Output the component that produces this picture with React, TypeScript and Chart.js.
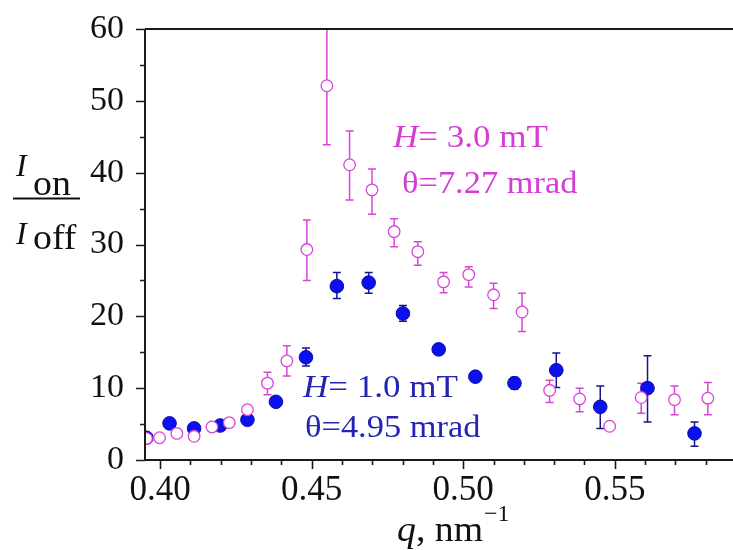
import React, { useEffect, useRef } from 'react';
import { Chart, registerables } from 'chart.js';

Chart.register(...registerables);

// H = 3.0 mT (open circles)
const q3 = [0.3955, 0.3998, 0.4055, 0.4112, 0.4171, 0.4228, 0.4288, 0.4354, 0.4418, 0.4484, 0.455, 0.4625, 0.4699, 0.4772, 0.485, 0.4935, 0.5018, 0.51, 0.5194, 0.5285, 0.5384, 0.5483, 0.5587, 0.5697, 0.5807];
const r3 = [3.0, 3.1, 3.7, 3.3, 4.6, 5.2, 7.0, 10.7, 13.8, 29.3, 52.1, 41.1, 37.6, 31.8, 29.0, 24.8, 25.8, 23.0, 20.6, 9.7, 8.5, 4.7, 8.7, 8.4, 8.6];
const lo3 = [2.7, 2.8, 3.3, 2.8, 4.2, 4.8, 6.4, 9.1, 11.7, 25.0, 43.9, 36.2, 34.2, 29.7, 27.1, 23.3, 24.1, 21.1, 17.9, 8.0, 6.7, 4.2, 6.5, 6.3, 6.3];
const hi3 = [3.3, 3.4, 4.1, 3.8, 5.0, 5.6, 7.6, 12.2, 15.9, 33.4, 62.0, 45.8, 40.5, 33.6, 30.4, 26.1, 26.9, 24.6, 23.2, 11.1, 10.0, 5.2, 10.7, 10.3, 10.8];

// H = 1.0 mT (filled circles)
const q1 = [0.3955, 0.4031, 0.4112, 0.4198, 0.4288, 0.4382, 0.4481, 0.4583, 0.4688, 0.4801, 0.4919, 0.504, 0.5169, 0.5307, 0.5452, 0.5608, 0.5763];
const r1 = [3.1, 5.1, 4.4, 4.8, 5.6, 8.1, 14.3, 24.2, 24.7, 20.4, 15.4, 11.6, 10.7, 12.5, 7.4, 10.0, 3.7];
const lo1 = [2.8, 4.7, 4.0, 4.4, 5.2, 7.6, 13.1, 22.5, 23.2, 19.3, 14.8, 11.1, 9.9, 10.1, 4.4, 5.3, 1.9];
const hi1 = [3.4, 5.5, 4.8, 5.2, 6.0, 8.6, 15.6, 26.1, 26.1, 21.5, 16.0, 12.1, 11.5, 14.9, 10.3, 14.5, 5.3];

const xTicks = [0.40, 0.41, 0.42, 0.43, 0.44, 0.45, 0.46, 0.47, 0.48, 0.49, 0.50, 0.51, 0.52, 0.53, 0.54, 0.55, 0.56, 0.57, 0.58];
const xLabelTicks = ['0.40', '0.45', '0.50', '0.55'];
const yTicks = [0, 5, 10, 15, 20, 25, 30, 35, 40, 45, 50, 55, 60];
const yLabelTicks = ['0', '10', '20', '30', '40', '50', '60'];

const PINK = '#d846d8';
const PINK_TEXT = '#d43cd4';
const BLUE = '#0a10ee';
const BLUE_DARK = '#14148c';
const BLUE_TEXT = '#2424b4';
const AXIS = '#1a1a1a';
const SERIF = '"Liberation Serif", "Times New Roman", serif';

const lowsFor = [lo3, lo1];
const highsFor = [hi3, hi1];
const barColors = [PINK, BLUE_DARK];

const isMajorX = (v: number) => xLabelTicks.includes(v.toFixed(2));
const isMajorY = (v: number) => yLabelTicks.includes(String(v));

const zeroPad = (s: any) => {
  s.paddingTop = 0;
  s.paddingBottom = 0;
  s.paddingLeft = 0;
  s.paddingRight = 0;
};

const decorPlugin = {
  id: 'decor',
  beforeDatasetsDraw(chart: any) {
    const { ctx, chartArea } = chart;
    const xs = chart.scales.x;
    const ys = chart.scales.y;
    ctx.save();
    ctx.beginPath();
    ctx.rect(chartArea.left, chartArea.top, chartArea.right - chartArea.left, chartArea.bottom - chartArea.top);
    ctx.clip();
    chart.data.datasets.forEach((ds: any, di: number) => {
      ctx.strokeStyle = barColors[di];
      ctx.lineWidth = 1.5;
      ds.data.forEach((p: any, i: number) => {
        const px = xs.getPixelForValue(p.x);
        const pl = ys.getPixelForValue(lowsFor[di][i]);
        const ph = ys.getPixelForValue(highsFor[di][i]);
        ctx.beginPath();
        ctx.moveTo(px, pl);
        ctx.lineTo(px, ph);
        ctx.moveTo(px - 4, pl);
        ctx.lineTo(px + 4, pl);
        ctx.moveTo(px - 4, ph);
        ctx.lineTo(px + 4, ph);
        ctx.stroke();
      });
    });
    ctx.restore();
  },
  afterDraw(chart: any) {
    const { ctx, chartArea } = chart;
    const xs = chart.scales.x;
    const ys = chart.scales.y;
    ctx.save();
    ctx.strokeStyle = AXIS;
    ctx.lineWidth = 2;
    ctx.beginPath();
    ctx.moveTo(chartArea.left, chartArea.top);
    ctx.lineTo(chartArea.right, chartArea.top);
    ctx.moveTo(chartArea.left, chartArea.top);
    ctx.lineTo(chartArea.left, chartArea.bottom);
    ctx.moveTo(chartArea.left, chartArea.bottom);
    ctx.lineTo(chartArea.right, chartArea.bottom);
    ctx.stroke();
    ctx.lineWidth = 1.6;
    ctx.beginPath();
    xTicks.forEach((v) => {
      const px = Math.round(xs.getPixelForValue(v)) + 0.5;
      const len = isMajorX(v) ? 9 : 5;
      ctx.moveTo(px, chartArea.bottom);
      ctx.lineTo(px, chartArea.bottom + len);
    });
    yTicks.forEach((v) => {
      const py = Math.round(ys.getPixelForValue(v)) + 0.5;
      const len = isMajorY(v) ? 9 : 5;
      ctx.moveTo(chartArea.left, py);
      ctx.lineTo(chartArea.left - len, py);
    });
    ctx.stroke();

    const drawParts = (x: number, y: number, parts: [string, string][], color: string, sx: number) => {
      ctx.save();
      ctx.fillStyle = color;
      ctx.textBaseline = 'alphabetic';
      ctx.textAlign = 'left';
      ctx.translate(x, y);
      ctx.scale(sx, 1);
      let cx = 0;
      parts.forEach(([t, font]) => {
        ctx.font = font;
        ctx.fillText(t, cx, 0);
        cx += ctx.measureText(t).width;
      });
      ctx.restore();
    };

    // y-axis title: I_on / I_off
    drawParts(16, 176, [['I', `italic 32px ${SERIF}`]], '#111', 1);
    drawParts(16, 244, [['I', `italic 32px ${SERIF}`]], '#111', 1);
    drawParts(33, 195, [['on', `36px ${SERIF}`]], '#111', 1.05);
    drawParts(33, 249, [['off', `36px ${SERIF}`]], '#111', 1.05);
    ctx.strokeStyle = '#111';
    ctx.lineWidth = 2;
    ctx.beginPath();
    ctx.moveTo(13, 198.5);
    ctx.lineTo(80, 198.5);
    ctx.stroke();

    // x-axis title
    drawParts(397, 541, [['q', `italic 35px ${SERIF}`], [', nm', `35px ${SERIF}`]], '#111', 1.08);
    drawParts(484, 521, [['\u22121', `24px ${SERIF}`]], '#111', 1);

    // annotations
    drawParts(393, 147, [['H', `italic 31px ${SERIF}`], ['= 3.0 mT', `31px ${SERIF}`]], PINK_TEXT, 1.13);
    drawParts(402, 193, [['\u03b8=7.27 mrad', `31px ${SERIF}`]], PINK_TEXT, 1.11);
    drawParts(303, 397, [['H', `italic 31px ${SERIF}`], ['= 1.0 mT', `31px ${SERIF}`]], BLUE_TEXT, 1.13);
    drawParts(305, 437, [['\u03b8=4.95 mrad', `31px ${SERIF}`]], BLUE_TEXT, 1.11);
    ctx.restore();
  },
};

export default function App() {
  const ref = useRef<HTMLCanvasElement>(null);
  useEffect(() => {
    if (!ref.current) return;
    const chart = new Chart(ref.current, {
      type: 'scatter',
      data: {
        datasets: [
          {
            label: 'H = 3.0 mT',
            data: q3.map((x, i) => ({ x, y: r3[i] })),
            pointRadius: 5.8,
            pointBorderWidth: 1.3,
            pointBorderColor: PINK,
            pointBackgroundColor: '#ffffff',
            clip: 0,
          },
          {
            label: 'H = 1.0 mT',
            data: q1.map((x, i) => ({ x, y: r1[i] })),
            pointRadius: 6.8,
            pointBorderWidth: 1,
            pointBorderColor: '#0a0aa8',
            pointBackgroundColor: BLUE,
            clip: 0,
          },
        ],
      },
      options: {
        animation: false,
        responsive: false,
        layout: { autoPadding: false, padding: { top: 29, left: 0, right: 0, bottom: 0 } },
        plugins: { legend: { display: false }, tooltip: { enabled: false } },
        scales: {
          x: {
            type: 'linear',
            min: 0.395,
            max: 0.589,
            grid: { display: false },
            border: { display: false },
            afterBuildTicks: (s: any) => {
              s.ticks = xTicks.map((v) => ({ value: v }));
            },
            afterFit: (s: any) => {
              s.height = 90;
              zeroPad(s);
            },
            ticks: {
              autoSkip: false,
              maxRotation: 0,
              padding: 2,
              color: '#111',
              font: { family: SERIF, size: 35 },
              callback: (v: any) => (isMajorX(Number(v)) ? Number(v).toFixed(2) : ''),
            },
          },
          y: {
            type: 'linear',
            min: 0,
            max: 60,
            grid: { display: false },
            border: { display: false },
            afterBuildTicks: (s: any) => {
              s.ticks = yTicks.map((v) => ({ value: v }));
            },
            afterFit: (s: any) => {
              s.width = 145;
              zeroPad(s);
            },
            ticks: {
              autoSkip: false,
              padding: 13,
              color: '#111',
              font: { family: SERIF, size: 34 },
              callback: (v: any) => (isMajorY(Number(v)) ? String(v) : ''),
            },
          },
        },
      },
      plugins: [decorPlugin],
    });
    return () => chart.destroy();
  }, []);
  return (
    <div style={{ position: 'fixed', left: 0, top: 0, width: 733, height: 550, background: '#fff' }}>
      <canvas ref={ref} width={733} height={550} style={{ width: 733, height: 550 }} />
    </div>
  );
}
